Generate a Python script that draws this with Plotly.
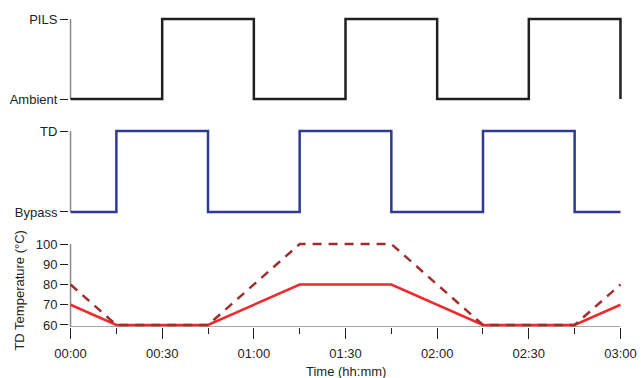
import plotly.graph_objects as go

# ---- data ----
pils_t = [0, 30, 60, 90, 120, 150, 180]
pils_v = [0, 1, 0, 1, 0, 1, 0]          # 0 = Ambient, 1 = PILS
td_t = [0, 15, 45, 75, 105, 135, 165, 180]
td_v = [0, 1, 0, 1, 0, 1, 0, 0]          # 0 = Bypass, 1 = TD
temp_t = [0, 15, 45, 75, 105, 135, 165, 180]
temp_solid = [70, 60, 60, 80, 80, 60, 60, 70]
temp_dash = [80, 60, 60, 100, 100, 60, 60, 80]
x_tickvals = [0, 30, 60, 90, 120, 150, 180]
x_ticktext = ["00:00", "00:30", "01:00", "01:30", "02:00", "02:30", "03:00"]
x_minorvals = [15, 45, 75, 105, 135, 165]
y_tickvals = [60, 70, 80, 90, 100]

W, H = 641, 378
FONT = "Liberation Sans, Arial, sans-serif"
TXT = "#231f20"
AX = "#8a8a8a"

def dom(top_px, bot_px):
    return [(H - bot_px) / H, (H - top_px) / H]

fig = go.Figure()
fig.add_trace(go.Scatter(x=pils_t, y=pils_v, mode="lines", line=dict(color="#231f20", width=2.5, shape="hv"),
                         xaxis="x", yaxis="y", showlegend=False))
fig.add_trace(go.Scatter(x=td_t, y=td_v, mode="lines", line=dict(color="#2e3a94", width=2.5, shape="hv"),
                         xaxis="x2", yaxis="y2", showlegend=False))
fig.add_trace(go.Scatter(x=temp_t, y=temp_solid, mode="lines", line=dict(color="#ee2a2e", width=2.5),
                         xaxis="x3", yaxis="y3", showlegend=False))
fig.add_trace(go.Scatter(x=temp_t, y=temp_dash, mode="lines", line=dict(color="#a0302c", width=2.5, dash="9px,7px"),
                         xaxis="x3", yaxis="y3", showlegend=False))

xr = [-0.5, 180.5]
hidden_x = dict(range=xr, showgrid=False, zeroline=False, showline=False, showticklabels=False, ticks="", domain=[0, 1])
ycommon = dict(showgrid=False, zeroline=False, showline=False, ticks="outside", ticklen=8, tickwidth=1,
               tickcolor=TXT, tickfont=dict(family=FONT, size=13, color=TXT), automargin=False)

fig.update_layout(
    width=W, height=H,
    margin=dict(l=68.5, r=18.5, t=0, b=0),
    paper_bgcolor="white", plot_bgcolor="white",
    xaxis=dict(**hidden_x, anchor="y"),
    xaxis2=dict(**hidden_x, anchor="y2"),
    xaxis3=dict(range=xr, domain=[0, 1], anchor="y3", showgrid=False, zeroline=False, showline=False,
                tickvals=x_tickvals, ticktext=x_ticktext, ticks="outside", ticklen=11, tickwidth=1,
                tickcolor=TXT, ticklabelstandoff=3, tickfont=dict(family=FONT, size=13, color=TXT),
                minor=dict(tickvals=x_minorvals, ticks="outside", ticklen=6, tickwidth=1, tickcolor=TXT),
                automargin=False),
    yaxis=dict(**ycommon, domain=dom(15, 103), range=[-0.05, 1.05], tickvals=[0, 1], ticktext=["Ambient", "PILS"], anchor="x"),
    yaxis2=dict(**ycommon, domain=dom(127, 216), range=[-0.05, 1.05], tickvals=[0, 1], ticktext=["Bypass", "TD"], anchor="x2"),
    yaxis3=dict(**ycommon, domain=dom(242, 327), range=[59, 101], tickvals=y_tickvals, anchor="x3"),
    shapes=[
        dict(type="line", xref="x", yref="y", x0=0, x1=0, y0=0, y1=1, line=dict(color=AX, width=1.5), layer="below"),
        dict(type="line", xref="x2", yref="y2", x0=0, x1=0, y0=0, y1=1, line=dict(color=AX, width=1.5), layer="below"),
        dict(type="line", xref="x3", yref="y3", x0=0, x1=0, y0=59, y1=100, line=dict(color=AX, width=1.5), layer="below"),
        dict(type="line", xref="x3", yref="y3", x0=0, x1=180, y0=59, y1=59, line=dict(color=AX, width=1.5), layer="below"),
    ],
    annotations=[
        dict(text="Time (hh:mm)", xref="paper", yref="paper", x=0.5, y=(H - 371) / H, xanchor="center",
             yanchor="middle", showarrow=False, font=dict(family=FONT, size=13, color=TXT)),
        dict(text="TD Temperature (°C)", xref="paper", yref="paper", x=(18 - 68.5) / (W - 68.5 - 18.5),
             y=(H - 290) / H, xanchor="center", yanchor="middle", textangle=-90, showarrow=False,
             font=dict(family=FONT, size=13, color=TXT)),
    ],
)

fig.write_html("out.html")
